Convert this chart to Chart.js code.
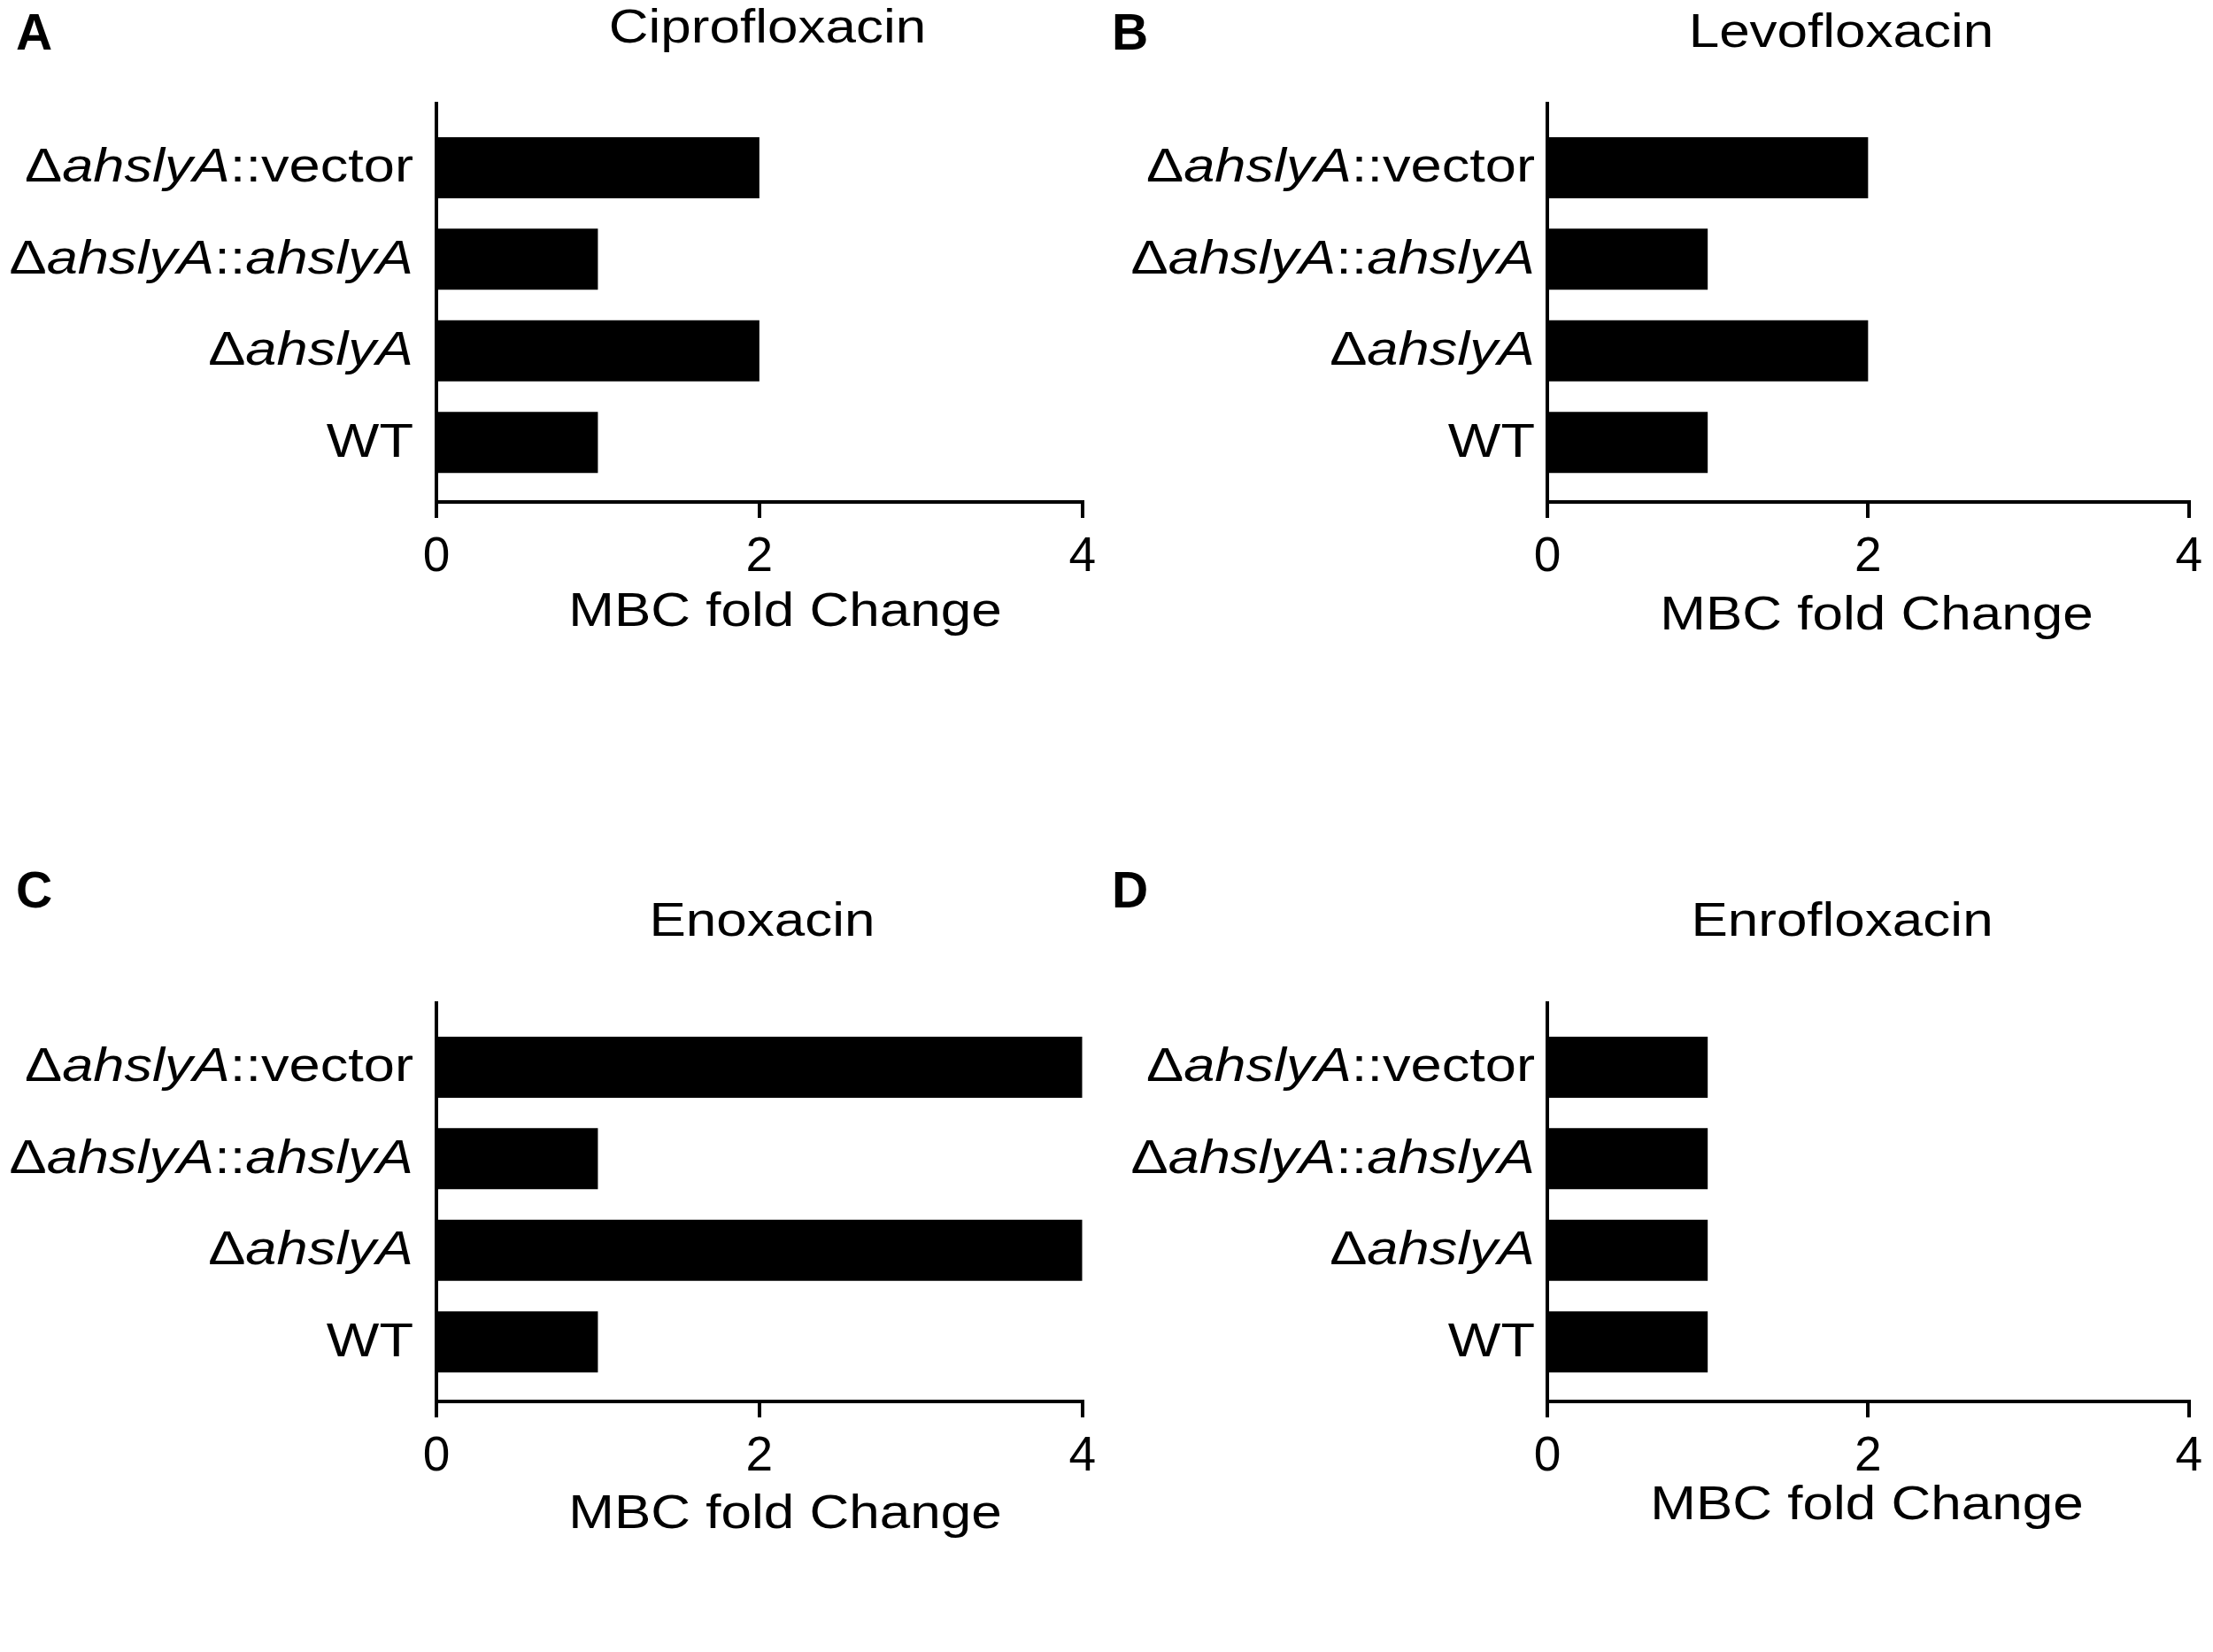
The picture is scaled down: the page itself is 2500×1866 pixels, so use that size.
<!DOCTYPE html>
<html>
<head>
<meta charset="utf-8">
<script src="https://cdn.jsdelivr.net/npm/chart.js@4.4.1/dist/chart.umd.min.js"></script>
<style>
  html, body { margin: 0; padding: 0; background: #fff; }
  #wrap { position: relative; width: 2500px; height: 1866px; overflow: hidden; }
  .panel { position: absolute; width: 1250px; height: 933px; }
</style>
</head>
<body>
<div id="wrap">
  <div class="panel" style="left:0px;top:0px"><canvas id="chartA" width="1250" height="933"></canvas></div>
  <div class="panel" style="left:1250px;top:0px"><canvas id="chartB" width="1250" height="933"></canvas></div>
  <div class="panel" style="left:0px;top:933px"><canvas id="chartC" width="1250" height="933"></canvas></div>
  <div class="panel" style="left:1250px;top:933px"><canvas id="chartD" width="1250" height="933"></canvas></div>
</div>
<script>
// strains, top to bottom
const strains = ['ΔahslyA::vector', 'ΔahslyA::ahslyA', 'ΔahslyA', 'WT'];
const drugs = ['Ciprofloxacin', 'Levofloxacin', 'Enoxacin', 'Enrofloxacin'];
const letters = ['A', 'B', 'C', 'D'];

// MBC fold change per strain
const cipro = [2, 1, 2, 1];
const levo  = [2, 1, 2, 1];
const enox  = [4, 1, 4, 1];
const enro  = [1, 1, 1, 1];

const xTicks = [0, 2, 4];
const xTitle = 'MBC fold Change';

// text in the figure is a bit wider than the font
const STRETCH = 1.17;
const FAMILY = '"Liberation Sans", Arial, sans-serif';

// page coords for each panel
const layouts = [
    { origin: [0, 0],      area: [493, 1225, 117, 567],   title: [867, 48],   xt: [887, 707],   letter: [18, 56],     labelRight: 467 },
    { origin: [1250, 0],   area: [1748, 2477, 117, 567],  title: [2080, 53],  xt: [2120, 711],  letter: [1256, 56],   labelRight: 1734 },
    { origin: [0, 933],    area: [493, 1225, 1133, 1583], title: [861, 1057], xt: [887, 1726],  letter: [18, 1025],   labelRight: 467 },
    { origin: [1250, 933], area: [1748, 2477, 1133, 1583], title: [2081, 1057], xt: [2109, 1716], letter: [1256, 1025], labelRight: 1734 }
];

function runsOf(text) {
    return text.split(/(ahslyA)/).filter(s => s).map(s => ({ t: s, it: s === 'ahslyA' }));
}

function drawRuns(ctx, runs, x, y, align, size) {
    let w = 0;
    runs.forEach(r => {
        ctx.font = (r.it ? 'italic ' : '') + size + 'px ' + FAMILY;
        r.w = ctx.measureText(r.t).width;
        w += r.w;
    });
    let start = x;
    if (align === 'right') start = x - w * STRETCH;
    else if (align === 'center') start = x - w * STRETCH / 2;

    ctx.save();
    ctx.translate(start, y);
    ctx.scale(STRETCH, 1);
    ctx.textAlign = 'left';
    ctx.textBaseline = 'alphabetic';
    let cx = 0;
    runs.forEach(r => {
        ctx.font = (r.it ? 'italic ' : '') + size + 'px ' + FAMILY;
        ctx.fillText(r.t, cx, 0);
        cx += r.w;
    });
    ctx.restore();
}

const panelText = {
    id: 'panelText',
    afterDraw(chart, args, opts) {
        const ctx = chart.ctx;
        const lay = opts.lay;
        const ox = lay.origin[0], oy = lay.origin[1];
        const yScale = chart.scales.y;

        ctx.save();
        ctx.fillStyle = '#000';

        // strain labels
        strains.forEach((name, i) => {
            const y = yScale.getPixelForValue(i) + 16;
            drawRuns(ctx, runsOf(name), lay.labelRight - ox, y, 'right', 54);
        });

        // drug title
        drawRuns(ctx, [{ t: opts.drug, it: false }], lay.title[0] - ox, lay.title[1] - oy, 'center', 53);

        // x axis title
        drawRuns(ctx, [{ t: xTitle, it: false }], lay.xt[0] - ox, lay.xt[1] - oy, 'center', 53);

        // panel letter
        ctx.font = 'bold 57px ' + FAMILY;
        ctx.textAlign = 'left';
        ctx.textBaseline = 'alphabetic';
        ctx.fillText(opts.letter, lay.letter[0] - ox, lay.letter[1] - oy);

        ctx.restore();
    }
};

function makePanel(id, values, idx) {
    const lay = layouts[idx];
    const ox = lay.origin[0], oy = lay.origin[1];
    const xH = 100;

    new Chart(document.getElementById(id), {
        type: 'bar',
        data: {
            datasets: [{
                data: values.map((v, i) => ({ x: v, y: i })),
                backgroundColor: '#000',
                borderWidth: 0,
                categoryPercentage: 1,
                barPercentage: 0.667
            }]
        },
        options: {
            indexAxis: 'y',
            responsive: false,
            animation: false,
            devicePixelRatio: 1,
            layout: {
                padding: {
                    left: lay.area[0] - ox,
                    right: 1250 - (lay.area[1] - ox),
                    top: lay.area[2] - oy,
                    bottom: 933 - (lay.area[3] - oy) - xH
                }
            },
            plugins: {
                legend: { display: false },
                tooltip: { enabled: false },
                title: { display: false },
                panelText: { lay: lay, drug: drugs[idx], letter: letters[idx] }
            },
            scales: {
                x: {
                    type: 'linear',
                    position: 'bottom',
                    min: 0,
                    max: 4,
                    afterFit: s => { s.height = xH; },
                    afterBuildTicks: s => { s.ticks = xTicks.map(v => ({ value: v })); },
                    ticks: {
                        padding: 12,
                        color: '#000',
                        maxRotation: 0,
                        font: { family: FAMILY, size: 55 }
                    },
                    grid: {
                        drawOnChartArea: false,
                        drawTicks: true,
                        tickLength: 18,
                        color: '#000',
                        lineWidth: 4
                    },
                    border: { display: true, color: '#000', width: 4 }
                },
                y: {
                    type: 'linear',
                    position: 'left',
                    reverse: true,
                    offset: false,
                    min: -0.7,
                    max: 3.65,
                    afterFit: s => { s.width = 0; },
                    ticks: { display: false, stepSize: 1, includeBounds: false },
                    grid: { display: false, drawTicks: false, offset: false },
                    border: { display: true, color: '#000', width: 4 }
                }
            }
        },
        plugins: [panelText]
    });
}

makePanel('chartA', cipro, 0);
makePanel('chartB', levo, 1);
makePanel('chartC', enox, 2);
makePanel('chartD', enro, 3);
</script>
</body>
</html>
